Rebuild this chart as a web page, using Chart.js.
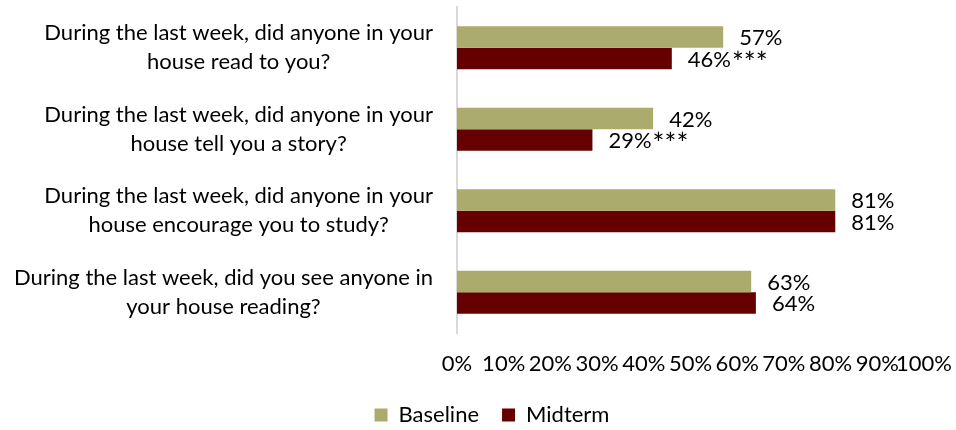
<!doctype html>
<html>
<head>
<meta charset="utf-8">
<title>Home reading habits</title>
<script src="https://cdn.jsdelivr.net/npm/chart.js@4/dist/chart.umd.min.js"></script>
<style>
	body { margin: 0; background: #fff; }
</style>
</head>
<body>
<canvas id="canvas" width="956" height="430"></canvas>
<script>
var questions = [
	["During the last week, did anyone in your", "house read to you?"],
	["During the last week, did anyone in your", "house tell you a story?"],
	["During the last week, did anyone in your", "house encourage you to study?"],
	["During the last week, did you see anyone in", "your house reading?"]
];
var baseline = [57, 42, 81, 63];
var midterm = [46, 29, 81, 64];
var midtermSig = ["***", "***", "", ""];
var xTicks = [0, 10, 20, 30, 40, 50, 60, 70, 80, 90, 100];

var FONT = "Lato, 'Open Sans', sans-serif";
var FONT_SIZE = 22;

// value labels to the right of each bar
var valueLabels = {
	id: 'valueLabels',
	afterDatasetsDraw: function(chart) {
		var ctx = chart.ctx;
		ctx.save();
		ctx.fillStyle = '#000';
		ctx.textAlign = 'left';
		ctx.textBaseline = 'middle';
		chart.data.datasets.forEach(function(ds, di) {
			chart.getDatasetMeta(di).data.forEach(function(bar, i) {
				var txt = ds.data[i] + '%';
				var x = bar.x + 16;
				ctx.font = FONT_SIZE + 'px ' + FONT;
				ctx.fillText(txt, x, bar.y + 1);
				var sig = ds.sig ? ds.sig[i] : '';
				if (sig) {
					// stars sit a little lower and bigger than Lato's own asterisk
					x += ctx.measureText(txt).width + 1;
					ctx.font = (FONT_SIZE + 6) + 'px ' + FONT;
					ctx.fillText(sig, x, bar.y + 5);
				}
			});
		});
		ctx.restore();
	}
};

// two-line question labels, right edge fixed, lines centred on each other
var questionLabels = {
	id: 'questionLabels',
	afterDraw: function(chart) {
		var ctx = chart.ctx;
		var yScale = chart.scales.y;
		var right = yScale.right - 24;
		ctx.save();
		ctx.font = FONT_SIZE + 'px ' + FONT;
		ctx.fillStyle = '#000';
		ctx.textAlign = 'center';
		ctx.textBaseline = 'middle';
		questions.forEach(function(lines, i) {
			var w = 0;
			lines.forEach(function(l) { w = Math.max(w, ctx.measureText(l).width); });
			var cx = right - w / 2;
			var cy = yScale.getPixelForValue(i);
			lines.forEach(function(l, k) {
				ctx.fillText(l, cx, cy + (k - (lines.length - 1) / 2) * 29);
			});
		});
		ctx.restore();
	}
};

window.onload = function() {
	var ctx = document.getElementById('canvas').getContext('2d');
	new Chart(ctx, {
		type: 'bar',
		data: {
			labels: questions,
			datasets: [
				{ label: 'Baseline', data: baseline, backgroundColor: '#ABAB6D' },
				{ label: 'Midterm', data: midterm, sig: midtermSig, backgroundColor: '#660000' }
			]
		},
		options: {
			indexAxis: 'y',
			responsive: false,
			animation: false,
			categoryPercentage: 0.53,
			barPercentage: 1.0,
			// left padding pushes the legend right; the y axis width makes up for it
			layout: { padding: { top: 7, right: 0, bottom: -6, left: 28 } },
			scales: {
				x: {
					min: 0,
					max: 100,
					afterBuildTicks: function(scale) {
						scale.ticks = xTicks.map(function(v) { return { value: v }; });
					},
					afterFit: function(scale) {
						scale.height = 48;
						scale.paddingRight = 32;
					},
					grid: { display: false, drawTicks: false },
					border: { display: false },
					ticks: {
						padding: 18,
						autoSkip: false,
						maxRotation: 0,
						color: '#000',
						font: { family: FONT, size: FONT_SIZE },
						callback: function(v) { return v + '%'; }
					}
				},
				y: {
					afterFit: function(scale) { scale.width = 429; },
					grid: { display: false, drawTicks: false },
					border: { display: true, color: '#d9d9d9', width: 2 },
					ticks: { display: false }
				}
			},
			plugins: {
				legend: {
					position: 'bottom',
					labels: {
						boxWidth: 13,
						boxHeight: 13,
						padding: 23,
						color: '#000',
						font: { family: FONT, size: FONT_SIZE }
					}
				},
				tooltip: { enabled: false }
			}
		},
		plugins: [valueLabels, questionLabels]
	});
};
</script>
</body>
</html>
